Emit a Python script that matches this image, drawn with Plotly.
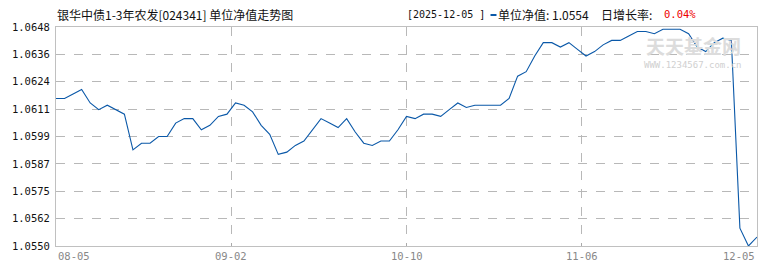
import plotly.graph_objects as go

# ---- data ----
nav = [1.0616, 1.0616, 1.0618, 1.0620, 1.0614, 1.0611, 1.0613, 1.0611, 1.0609, 1.0593,
       1.0596, 1.0596, 1.0599, 1.0599, 1.0605, 1.0607, 1.0607, 1.0602, 1.0604, 1.0608,
       1.0609, 1.0614, 1.0613, 1.0610, 1.0604, 1.0600, 1.0591, 1.0592, 1.0595, 1.0597,
       1.0602, 1.0607, 1.0605, 1.0603, 1.0607, 1.0601, 1.0596, 1.0595, 1.0597, 1.0597,
       1.0602, 1.0608, 1.0607, 1.0609, 1.0609, 1.0608, 1.0611, 1.0614, 1.0612, 1.0613,
       1.0613, 1.0613, 1.0613, 1.0616, 1.0626, 1.0628, 1.0635, 1.0641, 1.0641, 1.0639,
       1.0641, 1.0638, 1.0635, 1.0637, 1.0640, 1.0642, 1.0642, 1.0644, 1.0646, 1.0646,
       1.0645, 1.0647, 1.0647, 1.0647, 1.0645, 1.0639, 1.0637, 1.0641, 1.0643, 1.0642,
       1.0558, 1.0550, 1.0554]
x_idx = list(range(len(nav)))

y_ticks = [1.0648, 1.063575, 1.06235, 1.061125, 1.0599, 1.058675, 1.05745, 1.056225, 1.0550]
y_tick_text = ["1.0648", "1.0636", "1.0624", "1.0611", "1.0599", "1.0587", "1.0575", "1.0562", "1.0550"]
x_tick_pos = [0, 20.5, 41, 61.5, 82]
x_tick_text = ["08-05", "09-02", "10-10", "11-06", "12-05"]

title = "银华中债1-3年农发[024341] 单位净值走势图"
date_label = "[2025-12-05 ]"
nav_label = "单位净值: 1.0554"
rate_label = "日增长率: "
rate_value = "0.04%"

LINE = "#0a58a8"
GRID = "#b8b8b8"
CJK = "SimSun, 'Noto Sans CJK SC', sans-serif"
MONO = "'DejaVu Sans Mono', monospace"

L, R, T, B = 53, 12, 27, 24
PW, PH = 770 - L - R, 270 - T - B


def px(xp):
    return (xp - L) / PW


def py(yp):
    return (270 - B - yp) / PH


fig = go.Figure()
fig.add_trace(go.Scatter(x=x_idx, y=nav, mode="lines",
                         line=dict(color=LINE, width=1.1), hoverinfo="skip"))

fig.update_layout(
    width=770, height=270,
    margin=dict(l=L, r=R, t=T, b=B),
    paper_bgcolor="white", plot_bgcolor="white",
    showlegend=False,
    xaxis=dict(range=[0, 82], tickvals=x_tick_pos[1:-1], showticklabels=False,
               showgrid=True, gridcolor=GRID, griddash="dash", gridwidth=1,
               zeroline=False, showline=True, linecolor="#c0c0c0", linewidth=1,
               mirror=True, ticks="inside", ticklen=3, tickcolor="#aaaaaa"),
    yaxis=dict(range=[1.0550, 1.0648], tickvals=y_ticks, ticktext=y_tick_text,
               showgrid=True, gridcolor=GRID, griddash="dash", gridwidth=1,
               zeroline=False, showline=True, linecolor="#c0c0c0", linewidth=1,
               mirror=True, ticks="", ticklabelstandoff=3,
               tickfont=dict(family=MONO, size=10.5, color="#111111")),
)

# x tick labels
anchors = ["left", "center", "center", "center", "right"]
for pos, txt, anc in zip(x_tick_pos, x_tick_text, anchors):
    fig.add_annotation(x=pos, y=0, xref="x", yref="paper", text=txt, showarrow=False,
                       xanchor=anc, yanchor="top", yshift=-2,
                       font=dict(family=MONO, size=10.5, color="#888888"))

# title and header
hdr_y = py(14)
fig.add_annotation(xref="paper", x=px(52), xanchor="left", yref="paper", y=hdr_y,
                   yanchor="middle", showarrow=False, text=title,
                   font=dict(family=CJK, size=12, color="#111111"))
fig.add_annotation(xref="paper", x=px(404), xanchor="left", yref="paper", y=hdr_y,
                   yanchor="middle", showarrow=False, text=date_label,
                   font=dict(family=MONO, size=10, color="#111111"))
# small blue legend marker
fig.add_shape(type="rect", xref="paper", yref="paper",
              x0=px(490), x1=px(496), y0=py(16), y1=py(14),
              fillcolor=LINE, line=dict(width=0))
fig.add_annotation(xref="paper", x=px(496), xanchor="left", yref="paper", y=hdr_y,
                   yanchor="middle", showarrow=False, text=nav_label,
                   font=dict(family=CJK, size=12, color="#111111"))
fig.add_annotation(xref="paper", x=px(599), xanchor="left", yref="paper", y=hdr_y,
                   yanchor="middle", showarrow=False, text=rate_label,
                   font=dict(family=CJK, size=12, color="#111111"))
fig.add_annotation(xref="paper", x=px(662), xanchor="left", yref="paper", y=hdr_y,
                   yanchor="middle", showarrow=False, text=rate_value,
                   font=dict(family=MONO, size=10.5, color="#ee0000"))

# watermark
fig.add_annotation(xref="paper", x=px(694), xanchor="center", yref="paper",
                   y=py(45), yanchor="middle", showarrow=False,
                   text="<b>天天基金网</b>",
                   font=dict(family=CJK, size=19, color="#dcdcdc"))
fig.add_annotation(xref="paper", x=px(694), xanchor="center", yref="paper",
                   y=py(64.5), yanchor="middle", showarrow=False,
                   text="WWW.1234567.com.cn",
                   font=dict(family=MONO, size=9, color="#d0d0d0"))

fig.write_html("out.html")
